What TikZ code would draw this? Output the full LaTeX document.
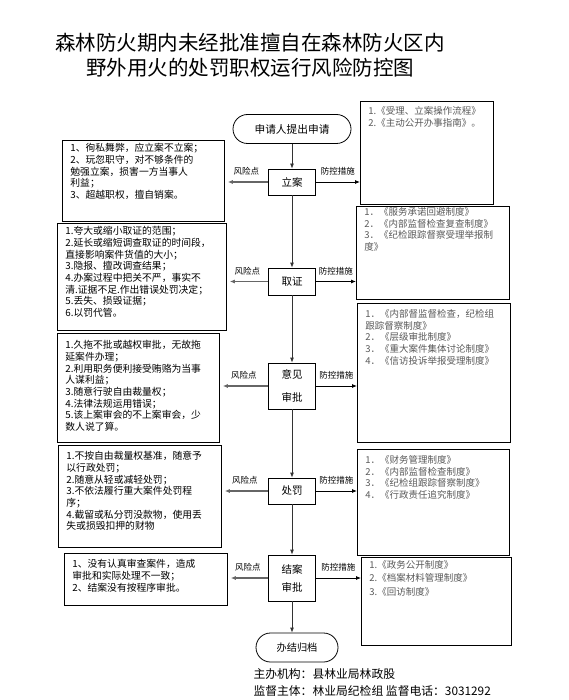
\documentclass[tikz,border=0pt]{standalone}
\usepackage{fontspec}
\setmainfont{Noto Sans CJK SC}
\usetikzlibrary{arrows.meta}

\tikzset{
  zhubox/.style={draw, line width=0.8pt, minimum width=47pt, minimum height=26pt, align=center, font=\fontsize{10.5}{23}\selectfont},
  duan/.style={draw, line width=0.8pt, rounded corners=14.5pt, minimum height=29pt},
  fengxian/.style={draw, line width=0.8pt, anchor=north west, inner xsep=8pt, inner ysep=0pt, font=\fontsize{9.8}{11.7}\selectfont},
  fangkong/.style={draw, line width=0.8pt, anchor=north west, inner xsep=8pt, inner ysep=0pt, text=black!65, font=\fontsize{9.5}{11.7}\selectfont},
  liu/.style={-{Latex[length=5pt,width=4pt]}, line width=0.8pt, draw=black!80},
  zuo/.style={-{Latex[length=5pt,width=4pt]}, line width=1.1pt, draw=black!60, shorten >=3pt},
  you/.style={-{Latex[length=5pt,width=4pt]}, line width=0.8pt},
  biao/.style={font=\fontsize{8.5}{10}\selectfont, inner sep=1pt, above=5pt}
}

\begin{document}
\begin{tikzpicture}[x=1pt, y=-1pt]
        \useasboundingbox (0,0) rectangle (569,700);

        % 标题
        \node[align=center, font=\fontsize{20.5}{25}\selectfont] (title) at (250,55)
          {森林防火期内未经批准擅自在森林防火区内\\野外用火的处罚职权运行风险防控图};

        % 主流程
        \node[duan, minimum width=118pt, font=\fontsize{10.7}{13}\selectfont] (start) at (292,129) {申请人提出申请};
        \node[zhubox] (lian) at (292,182) {立案};
        \node[zhubox, minimum height=27pt] (quzheng) at (292,281.5) {取证};
        \node[zhubox, minimum height=46pt] (shenpi) at (292,386) {意见\\审批};
        \node[zhubox] (chufa) at (292,491) {处罚};
        \node[zhubox, minimum height=46pt, font=\fontsize{10.5}{18}\selectfont] (jiean) at (292,578) {结案\\审批};
        \node[duan, minimum width=82pt, font=\fontsize{10.2}{13}\selectfont] (guidang) at (297,647.5) {办结归档};

        % 风险点
        \node[fengxian] (r1) at (62,140) {\parbox[t][81pt][t]{146pt}{\vspace{3pt}%
          1、徇私舞弊，应立案不立案；\\2、玩忽职守，对不够条件的\\勉强立案，损害一方当事人\\利益；\\3、超越职权，擅自销案。}};
        \node[fengxian] (r2) at (57,223) {\parbox[t][107pt][t]{153pt}{\vspace{3pt}%
          1.夸大或缩小取证的范围；\\2.延长或缩短调查取证的时间段，\\直接影响案件货值的大小；\\3.隐报、擅改调查结果；\\4.办案过程中把关不严，事实不\\清.证据不足.作出错误处罚决定；\\5.丢失、损毁证据；\\6.以罚代管。}};
        \node[fengxian] (r3) at (57,333) {\parbox[t][109pt][t]{146pt}{\vspace{7pt}%
          1.久拖不批或越权审批，无故拖\\延案件办理；\\2.利用职务便利接受贿赂为当事\\人谋利益；\\3.随意行驶自由裁量权；\\4.法律法规运用错误；\\5.该上案审会的不上案审会，少\\数人说了算。}};
        \node[fengxian] (r4) at (58,445) {\parbox[t][102pt][t]{147pt}{\vspace{6pt}%
          1.不按自由裁量权基准，随意予\\以行政处罚；\\2.随意从轻或减轻处罚；\\3.不依法履行重大案件处罚程\\序；\\4.截留或私分罚没款物，使用丢\\失或损毁扣押的财物}};
        \node[fengxian] (r5) at (64,553) {\parbox[t][52pt][t]{147pt}{\vspace{6pt}%
          1、没有认真审查案件，造成\\审批和实际处理不一致；\\2、结案没有按程序审批。}};

        % 防控措施
        \node[fangkong] (m1) at (360,101) {\parbox[t][103pt][t]{117pt}{\vspace{5pt}%
          1.《受理、立案操作流程》\\2.《主动公开办事指南》。}};
        \node[fangkong] (m2) at (356,206) {\parbox[t][93pt][t]{137pt}{\vspace{1pt}%
          1．《服务承诺回避制度》\\2．《内部监督检查复查制度》\\3．《纪检跟踪督察受理举报制\\度》}};
        \node[fangkong] (m3) at (357,303) {\parbox[t][139pt][t]{137pt}{\vspace{6pt}%
          1．《内部督监督检查，纪检组\\跟踪督察制度》\\2．《层级审批制度》\\3．《重大案件集体讨论制度》\\4．《信访投诉举报受理制度》}};
        \node[fangkong] (m4) at (357,449) {\parbox[t][106pt][t]{136pt}{\vspace{6pt}%
          1．《财务管理制度》\\2．《内部监督检查制度》\\3．《纪检组跟踪督察制度》\\4．《行政责任追究制度》}};
        \node[fangkong, font=\fontsize{9.5}{13.3}\selectfont] (m5) at (361,557) {\parbox[t][88pt][t]{134pt}{\vspace{3pt}%
          1.《政务公开制度》\\2.《档案材料管理制度》\\3.《回访制度》}};

        % 落款
        \node[align=left, anchor=west, font=\fontsize{11.8}{17}\selectfont] (luokuan) at (250,682.5)
          {主办机构：县林业局林政股\\监督主体：林业局纪检组 监督电话：3031292};

        % 连线
        \draw[liu] (start) -- (lian);
        \draw[liu] (lian) -- (quzheng);
        \draw[liu] (quzheng) -- (shenpi);
        \draw[liu] (shenpi) -- (chufa);
        \draw[liu] (chufa) -- (jiean);
        \draw[liu] (jiean.south) -- (jiean.south |- guidang.north);

        \draw[zuo] (lian.west) -- (lian.west -| r1.east) node[biao, midway] {风险点};
        \draw[zuo] (quzheng.west) -- (quzheng.west -| r2.east) node[biao, midway] {风险点};
        \draw[zuo] (shenpi.west) -- (shenpi.west -| r3.east) node[biao, midway] {风险点};
        \draw[zuo] (chufa.west) -- (chufa.west -| r4.east) node[biao, midway] {风险点};
        \draw[zuo] (jiean.west) -- (jiean.west -| r5.east) node[biao, midway] {风险点};

        \draw[you] (lian.east) -- (lian.east -| m1.west) node[biao, midway] {防控措施};
        \draw[you] (quzheng.east) -- (quzheng.east -| m2.west) node[biao, midway] {防控措施};
        \draw[you] (shenpi.east) -- (shenpi.east -| m3.west) node[biao, midway] {防控措施};
        \draw[you] (chufa.east) -- (chufa.east -| m4.west) node[biao, midway] {防控措施};
        \draw[you] (jiean.east) -- (jiean.east -| m5.west) node[biao, midway] {防控措施};
    \end{tikzpicture}
\end{document}
